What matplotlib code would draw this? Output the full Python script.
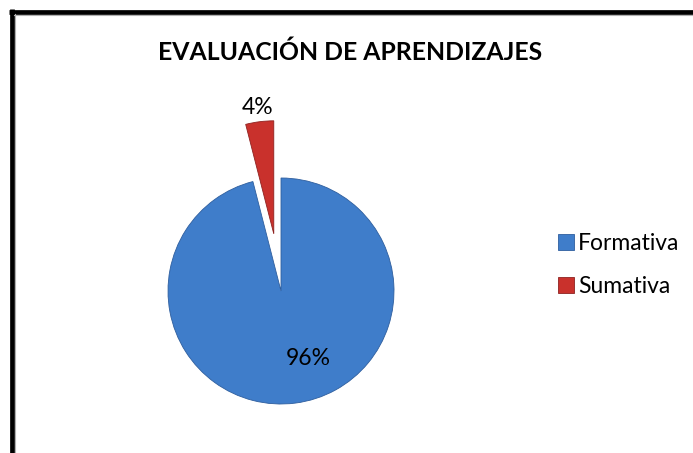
import matplotlib.pyplot as plt
import numpy as np
from matplotlib.lines import Line2D

# Data
categories = ["Formativa", "Sumativa"]
shares = [96, 4]
colors = ["#3F7DCA", "#C9312C"]
explode = [0, 0.51]

W, H = 693, 453
R = 113  # pie radius in pixels
cx, cy = 281, 291  # pie centre in pixels (from top-left)

fig = plt.figure(figsize=(W / 100, H / 100), dpi=100)
fig.patch.set_facecolor("white")

# axes so that 1 data unit = R pixels
left_px, right_px, top_px, bot_px = 200, 200, 200, 160
ax = fig.add_axes([(cx - left_px) / W, (H - (cy + bot_px)) / H,
                   (left_px + right_px) / W, (top_px + bot_px) / H])

wedges, texts = ax.pie(shares, colors=colors, explode=explode, startangle=90,
                       counterclock=False, radius=1,
                       wedgeprops=dict(edgecolor="#2E5E9E", linewidth=0.6))
wedges[1].set_edgecolor("#8E2220")

# percent labels
for i, w in enumerate(wedges):
    mid = np.deg2rad((w.theta1 + w.theta2) / 2)
    wx, wy = w.center
    if i == 0:
        # Excel puts the big label a bit off the bisector
        mid = np.deg2rad(-68)
        d = 0.64
    else:
        d = 1.13
    ax.text(wx + d * np.cos(mid), wy + d * np.sin(mid), f"{shares[i]}%",
            ha="center", va="center", fontsize=16.5, family="Lato", color="black")

ax.set_xlim(-left_px / R, right_px / R)
ax.set_ylim(-bot_px / R, top_px / R)
ax.axis("off")

# Title
fig.text(350 / W, 1 - 52 / H, "EVALUACIÓN DE APRENDIZAJES", ha="center", va="center",
         fontsize=17.8, fontweight="bold", family="Lato")

# Legend
fig.legend(wedges, categories, loc="center left", bbox_to_anchor=(537 / W, 1 - 265 / H),
           frameon=False, prop=dict(family="Lato", size=16.5), handlelength=0.7,
           handleheight=0.7, handletextpad=0.2, labelspacing=0.95)

# chart border (top and left only visible)
fig.add_artist(Line2D([9 / W, 1], [1 - 11.5 / H, 1 - 11.5 / H], transform=fig.transFigure,
                      color="black", linewidth=3.4, solid_capstyle="butt"))
fig.add_artist(Line2D([11.5 / W, 11.5 / W], [0, 1 - 9 / H], transform=fig.transFigure,
                      color="black", linewidth=3.4, solid_capstyle="butt"))
fig.add_artist(Line2D([14 / W, 1], [1 - 14.5 / H, 1 - 14.5 / H], transform=fig.transFigure,
                      color="#b0b0b0", linewidth=0.8))
fig.add_artist(Line2D([14.5 / W, 14.5 / W], [0, 1 - 14 / H], transform=fig.transFigure,
                      color="#b0b0b0", linewidth=0.8))

plt.savefig("out.png", dpi=100)
